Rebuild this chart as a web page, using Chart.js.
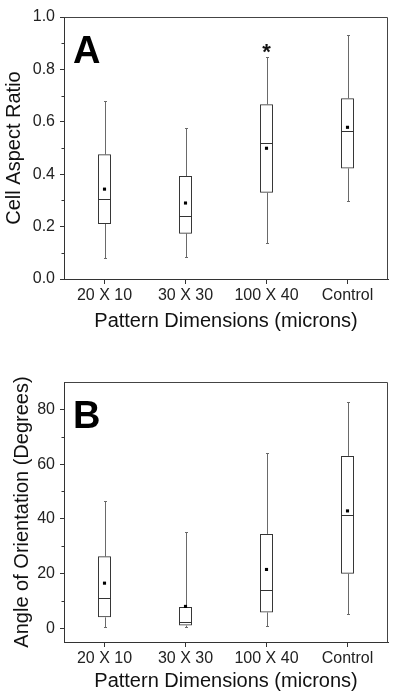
<!DOCTYPE html>
<html>
<head>
<meta charset="utf-8">
<script src="https://cdn.jsdelivr.net/npm/chart.js@4"></script>
<style>
  body { margin: 0; background: #fff; width: 400px; height: 696px; overflow: hidden; }
  .panel { position: relative; width: 400px; }
</style>
</head>
<body>
<div class="panel" style="height:340px"><canvas id="chartA"></canvas></div>
<div class="panel" style="height:356px"><canvas id="chartB"></canvas></div>
<script>
const categories = ['20 X 10', '30 X 30', '100 X 40', 'Control'];

// panel A - cell aspect ratio
const ratioMin = [0.082, 0.085, 0.136, 0.296];
const ratioQ1 = [0.210, 0.173, 0.329, 0.422];
const ratioMedian = [0.307, 0.242, 0.518, 0.564];
const ratioQ3 = [0.476, 0.393, 0.667, 0.690];
const ratioMax = [0.681, 0.578, 0.849, 0.932];
const ratioMean = [0.343, 0.290, 0.499, 0.579];
const ratioMarks = ['', '', '*', ''];
const ratioTicks = [0, 0.2, 0.4, 0.6, 0.8, 1.0];
const ratioMinorTicks = [0.1, 0.3, 0.5, 0.7, 0.9];

// panel B - angle of orientation
const angleMin = [0.5, 0.4, 1.0, 5.2];
const angleQ1 = [4.0, 1.0, 5.8, 19.9];
const angleMedian = [11.0, 2.3, 14.0, 41.4];
const angleQ3 = [26.3, 7.8, 34.5, 63.0];
const angleMax = [46.7, 35.3, 63.9, 82.7];
const angleMean = [16.5, 8.0, 21.5, 42.9];
const angleMarks = ['', '', '', ''];
const angleTicks = [0, 20, 40, 60, 80];
const angleMinorTicks = [10, 30, 50, 70];

Chart.defaults.font.family = 'Arial, "Liberation Sans", sans-serif';
Chart.defaults.color = '#222';

function boxPlot(id, o) {
  // whiskers, medians, frame and labels drawn on top of the library's scales
  const boxExtras = {
    id: 'boxExtras',
    beforeDatasetsDraw(chart) {
      const { ctx, scales: { x, y } } = chart;
      ctx.save();
      ctx.lineWidth = 1;
      ctx.strokeStyle = '#6a6a6a';
      ctx.beginPath();
      o.min.forEach((v, i) => {
        const cx = Math.round(x.getPixelForValue(i)) + 0.5;
        const top = Math.round(y.getPixelForValue(o.max[i])) + 0.5;
        const bot = Math.round(y.getPixelForValue(v)) + 0.5;
        ctx.moveTo(cx, top);
        ctx.lineTo(cx, y.getPixelForValue(o.q3[i]));
        ctx.moveTo(cx, y.getPixelForValue(o.q1[i]));
        ctx.lineTo(cx, bot);
        ctx.moveTo(cx - 1.5, top);
        ctx.lineTo(cx + 1.5, top);
        ctx.moveTo(cx - 1.5, bot);
        ctx.lineTo(cx + 1.5, bot);
      });
      ctx.stroke();
      ctx.restore();
    },
    afterDatasetDraw(chart, args) {
      if (args.index !== 0) return;
      const { ctx, scales: { y } } = chart;
      ctx.save();
      ctx.lineWidth = 1;
      ctx.strokeStyle = '#333';
      ctx.beginPath();
      chart.getDatasetMeta(0).data.forEach((bar, i) => {
        const my = Math.round(y.getPixelForValue(o.median[i])) + 0.5;
        ctx.moveTo(bar.x - bar.width / 2, my);
        ctx.lineTo(bar.x + bar.width / 2, my);
      });
      ctx.stroke();
      ctx.restore();
    },
    afterDraw(chart) {
      const { ctx, chartArea: { left, right, top, bottom }, scales: { x, y } } = chart;
      ctx.save();
      // frame top and right
      ctx.strokeStyle = '#444';
      ctx.lineWidth = 1;
      ctx.beginPath();
      ctx.moveTo(Math.round(left) + 0.5, Math.round(top) + 0.5);
      ctx.lineTo(Math.round(right) - 0.5, Math.round(top) + 0.5);
      ctx.lineTo(Math.round(right) - 0.5, Math.round(bottom) + 0.5);
      ctx.stroke();
      // minor ticks
      ctx.strokeStyle = '#333';
      ctx.beginPath();
      o.minorTicks.forEach(v => {
        const ty = Math.round(y.getPixelForValue(v)) + 0.5;
        ctx.moveTo(left - 2.5, ty);
        ctx.lineTo(left, ty);
      });
      ctx.stroke();
      // significance marks
      ctx.fillStyle = '#111';
      ctx.textAlign = 'center';
      ctx.font = 'bold 22px Arial, "Liberation Sans", sans-serif';
      o.marks.forEach((m, i) => {
        if (m) ctx.fillText(m, x.getPixelForValue(i), y.getPixelForValue(o.max[i]) + 2);
      });
      // panel letter
      ctx.textAlign = 'left';
      ctx.fillStyle = '#000';
      ctx.font = 'bold 38px Arial, "Liberation Sans", sans-serif';
      ctx.fillText(o.letter, 73, top + 46);
      ctx.restore();
    }
  };

  return new Chart(document.getElementById(id), {
    type: 'bar',
    data: {
      labels: categories,
      datasets: [{
        data: categories.map((c, i) => [o.q1[i], o.q3[i]]),
        backgroundColor: 'rgba(0,0,0,0)',
        borderColor: '#333',
        borderWidth: 1,
        borderSkipped: false,
        barPercentage: 0.16,
        categoryPercentage: 1,
        order: 2
      }, {
        type: 'line',
        data: o.mean,
        showLine: false,
        pointStyle: 'rect',
        pointRadius: 2.2,
        pointBorderWidth: 0,
        pointBackgroundColor: '#000',
        borderColor: '#000',
        order: 1
      }]
    },
    options: {
      responsive: true,
      maintainAspectRatio: false,
      animation: false,
      layout: { padding: { top: o.top, right: 12, left: 0, bottom: 0 } },
      plugins: { legend: { display: false }, tooltip: { enabled: false } },
      scales: {
        x: {
          offset: true,
          grid: { offset: false, drawOnChartArea: false, tickLength: 5, color: '#333' },
          border: { display: true, color: '#333', width: 1 },
          ticks: { font: { size: 16 }, padding: 2, maxRotation: 0, autoSkip: false },
          title: { display: true, text: 'Pattern Dimensions (microns)', color: '#111',
                   font: { size: 20 }, padding: { top: 0, bottom: o.xTitlePad } },
          afterFit(s) { s.height = o.xHeight; }
        },
        y: {
          min: o.yMin,
          max: o.yMax,
          afterBuildTicks(s) { s.ticks = o.ticks.map(v => ({ value: v })); },
          grid: { drawOnChartArea: false, tickLength: 4, color: '#333' },
          border: { display: true, color: '#333', width: 1 },
          ticks: { font: { size: 16 }, padding: 5, callback: o.format },
          title: { display: true, text: o.yTitle, color: '#111',
                   font: { size: 20 }, padding: { top: o.yTitlePad, bottom: 0 } },
          afterFit(s) { s.width = 64; }
        }
      }
    },
    plugins: [boxExtras]
  });
}

boxPlot('chartA', {
  min: ratioMin, q1: ratioQ1, median: ratioMedian, q3: ratioQ3, max: ratioMax,
  mean: ratioMean, marks: ratioMarks, ticks: ratioTicks, minorTicks: ratioMinorTicks,
  yMin: 0, yMax: 1, format: v => v.toFixed(1), yTitle: 'Cell Aspect Ratio',
  letter: 'A', top: 17, xHeight: 61, xTitlePad: 7, yTitlePad: 2
});

boxPlot('chartB', {
  min: angleMin, q1: angleQ1, median: angleMedian, q3: angleQ3, max: angleMax,
  mean: angleMean, marks: angleMarks, ticks: angleTicks, minorTicks: angleMinorTicks,
  yMin: -5, yMax: 90, format: v => String(v), yTitle: 'Angle of Orientation (Degrees)',
  letter: 'B', top: 42, xHeight: 54, xTitlePad: 3, yTitlePad: 10
});
</script>
</body>
</html>
